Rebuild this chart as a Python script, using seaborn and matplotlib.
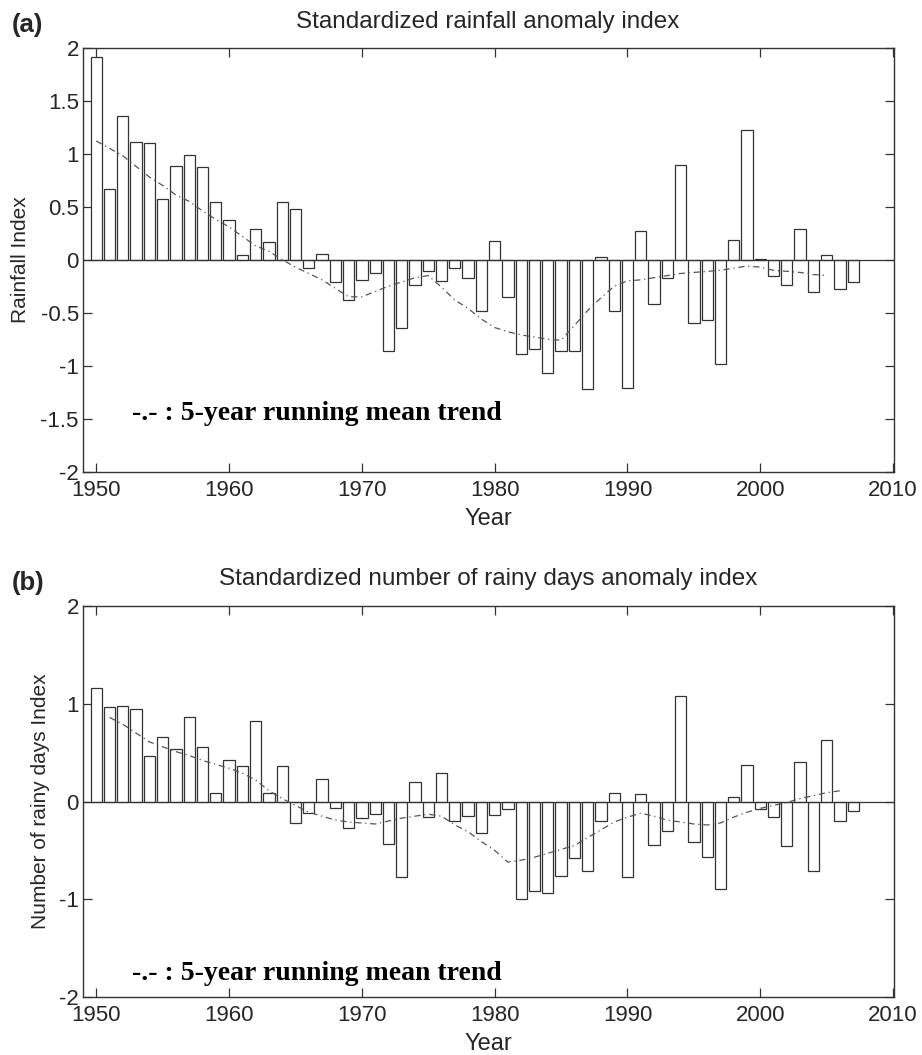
import matplotlib
matplotlib.use("Agg")
import matplotlib.pyplot as plt
import pandas as pd
import seaborn as sns

# Annual anomaly indices, 1950-2007
years = list(range(1950, 2008))
rainfall_index = [
    1.91, 0.67, 1.355, 1.11, 1.10, 0.575, 0.885, 0.99, 0.875, 0.545,
    0.37, 0.045, 0.285, 0.17, 0.54, 0.475, -0.08, 0.05, -0.215, -0.38,
    -0.195, -0.13, -0.86, -0.64, -0.235, -0.11, -0.205, -0.08, -0.17, -0.485,
    0.175, -0.355, -0.885, -0.845, -1.07, -0.865, -0.86, -1.22, 0.03, -0.485,
    -1.215, 0.275, -0.42, -0.175, 0.895, -0.60, -0.57, -0.985, 0.185, 1.225,
    0.01, -0.15, -0.235, 0.285, -0.30, 0.04, -0.275, -0.215,
]
rainy_days_index = [
    1.16, 0.965, 0.975, 0.95, 0.465, 0.655, 0.535, 0.86, 0.56, 0.09,
    0.42, 0.36, 0.825, 0.09, 0.36, -0.215, -0.115, 0.235, -0.07, -0.275,
    -0.165, -0.13, -0.435, -0.775, 0.195, -0.155, 0.29, -0.20, -0.15, -0.325,
    -0.14, -0.08, -0.995, -0.915, -0.94, -0.76, -0.58, -0.71, -0.20, 0.09,
    -0.775, 0.075, -0.45, -0.305, 1.08, -0.41, -0.565, -0.895, 0.05, 0.37,
    -0.08, -0.16, -0.46, 0.40, -0.715, 0.625, -0.20, -0.095,
]

# 5-year running mean trends
rainfall_trend_years = list(range(1950, 2006))
rainfall_trend = [
    1.12, 1.05, 0.98, 0.88, 0.78, 0.70, 0.61, 0.55, 0.46, 0.38,
    0.31, 0.22, 0.13, 0.08, 0.00, -0.07, -0.13, -0.19, -0.27, -0.35,
    -0.35, -0.30, -0.25, -0.21, -0.17, -0.15, -0.26, -0.38, -0.46, -0.56,
    -0.64, -0.68, -0.71, -0.73, -0.75, -0.76, -0.62, -0.48, -0.36, -0.25,
    -0.20, -0.19, -0.17, -0.15, -0.13, -0.12, -0.11, -0.10, -0.08, -0.06,
    -0.07, -0.10, -0.11, -0.12, -0.14, -0.15,
]
rainy_trend_years = list(range(1951, 2007))
rainy_trend = [
    0.86, 0.79, 0.70, 0.61, 0.56, 0.51, 0.47, 0.42, 0.38,
    0.34, 0.29, 0.22, 0.11, 0.03, -0.04, -0.11, -0.15, -0.19, -0.21,
    -0.22, -0.23, -0.20, -0.17, -0.15, -0.13, -0.15, -0.24, -0.31, -0.41,
    -0.50, -0.62, -0.60, -0.57, -0.53, -0.49, -0.45, -0.37, -0.29, -0.21,
    -0.16, -0.12, -0.15, -0.19, -0.21, -0.23, -0.24, -0.22, -0.16, -0.11,
    -0.07, -0.04, -0.01, 0.03, 0.06, 0.09, 0.11,
]

x_ticks = [1950, 1960, 1970, 1980, 1990, 2000, 2010]
rain_yticks = [-2, -1.5, -1, -0.5, 0, 0.5, 1, 1.5, 2]
rain_yticklabels = ["-2", "-1.5", "-1", "-0.5", "0", "0.5", "1", "1.5", "2"]
days_yticks = [-2, -1, 0, 1, 2]
days_yticklabels = ["-2", "-1", "0", "1", "2"]

sns.set_theme(style="ticks")
plt.rcParams["font.family"] = ["Liberation Sans", "DejaVu Sans"]

EDGE = "#333333"
W, H = 922, 1055
fig = plt.figure(figsize=(W / 100, H / 100), dpi=100)
fig.patch.set_facecolor("white")

ax_a = fig.add_axes([83 / W, 1 - 471.7 / H, 811 / W, 424 / H])
ax_b = fig.add_axes([83 / W, 1 - 997 / H, 811 / W, 391 / H])

panels = [
    (ax_a, rainfall_index, rainfall_trend_years, rainfall_trend,
     rain_yticks, rain_yticklabels, "Rainfall Index", -0.077, -1.51,
     "(a)", 25, "Standardized rainfall anomaly index", 22, 424),
    (ax_b, rainy_days_index, rainy_trend_years, rainy_trend,
     days_yticks, days_yticklabels, "Number of rainy days Index", -0.052, -1.83,
     "(b)", 583, "Standardized number of rainy days anomaly index", 579, 391),
]

for (ax, vals, tyears, tvals, yt, ytl, ylab, ylab_x, note_y,
     tag, tag_y, title, title_y, ax_h) in panels:
    df = pd.DataFrame({"year": years, "value": vals})
    sns.barplot(data=df, x="year", y="value", ax=ax, native_scale=True,
                orient="x", width=0.85, color="white", saturation=1,
                edgecolor=EDGE, linewidth=0.9, errorbar=None)
    ax.axhline(0, color=EDGE, lw=0.9, zorder=3)

    tdf = pd.DataFrame({"year": tyears, "trend": tvals})
    sns.lineplot(data=tdf, x="year", y="trend", ax=ax, color="#555555",
                 lw=0.9, zorder=4)
    ax.lines[-1].set_dashes([5, 3, 1, 3])

    ax.set_xlim(1949.0, 2010.07)
    ax.set_ylim(-2, 2)
    ax.set_xticks(x_ticks)
    ax.set_xticklabels([str(t) for t in x_ticks])
    ax.set_yticks(yt)
    ax.set_yticklabels(ytl)
    ax.tick_params(direction="in", top=True, right=True, length=6.5,
                   width=0.9, color=EDGE, labelsize=16)
    ax.tick_params(axis="x", pad=6)
    ax.tick_params(axis="y", pad=3)
    for s in ax.spines.values():
        s.set_visible(True)
        s.set_color(EDGE)
        s.set_linewidth(1.0)

    ax.set_ylabel(ylab, fontsize=15)
    ax.yaxis.set_label_coords(ylab_x, 0.5)
    ax.yaxis.label.set_va("center")
    ax.set_xlabel("Year", fontsize=17)
    ax.xaxis.set_label_coords(0.5, -47 / ax_h)
    ax.xaxis.label.set_va("center")

    ax.text(1952.7, note_y, "-.- : 5-year running mean trend",
            family=["Liberation Serif", "DejaVu Serif"], fontweight="bold",
            fontsize=20, ha="left", va="baseline", color="black")

    fig.text(12 / W, 1 - tag_y / H, tag, fontsize=18.5,
             fontweight="bold", ha="left", va="center")
    fig.text(488 / W, 1 - title_y / H, title, fontsize=17.5,
             ha="center", va="center")

fig.savefig("out.png", dpi=100, facecolor="white")
